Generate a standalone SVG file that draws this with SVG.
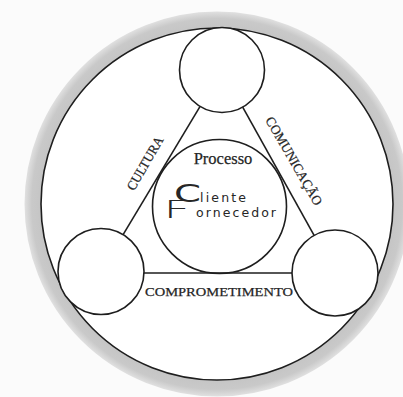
<svg xmlns="http://www.w3.org/2000/svg" width="403" height="397" viewBox="0 0 403 397">
  <style>
    .ln { stroke: #1e1e1e; stroke-width: 1.6; fill: none; }
    .node { stroke: #1e1e1e; stroke-width: 1.6; fill: #ffffff; }
    .serif { font-family: "Liberation Serif", "Times New Roman", serif; fill: #262626; stroke: #262626; stroke-width: 0.25; }
    .geo { font-family: "DejaVu Sans", "Liberation Sans", sans-serif; fill: #262626; }
  </style>
  <defs>
    <radialGradient id="ringGrad" gradientUnits="userSpaceOnUse" cx="217" cy="204" r="193">
      <stop offset="0.90" stop-color="#c4c4c4"/>
      <stop offset="0.96" stop-color="#c9c9c9"/>
      <stop offset="1" stop-color="#e2e2e2"/>
    </radialGradient>
  </defs>
  <rect x="0" y="0" width="403" height="397" fill="#fbfbfb"/>

  <g id="frame">
    <circle cx="217" cy="204" r="184" fill="none" stroke="url(#ringGrad)" stroke-width="17"/>
    <circle cx="217" cy="204" r="176" fill="#ffffff" stroke="#1e1e1e" stroke-width="1.6"/>
  </g>

  <g id="connectors">
    <line class="ln" x1="200.1" y1="106.4" x2="123.1" y2="234.6"/>
    <line class="ln" x1="242.7" y1="107.1" x2="314.1" y2="235.4"/>
    <line class="ln" x1="144" y1="273" x2="292" y2="273"/>
    <text class="serif" font-size="13.5" text-anchor="middle" textLength="60" lengthAdjust="spacingAndGlyphs" transform="translate(148.9 165.6) rotate(-60)">CULTURA</text>
    <text class="serif" font-size="13.5" text-anchor="middle" textLength="100" lengthAdjust="spacingAndGlyphs" transform="translate(290.1 163.3) rotate(60)">COMUNICAÇÃO</text>
    <text class="serif" font-size="13.5" x="219" y="295.7" text-anchor="middle" textLength="148" lengthAdjust="spacingAndGlyphs">COMPROMETIMENTO</text>
  </g>

  <g id="node-top">
    <circle class="node" cx="222" cy="70" r="42.5"/>
  </g>
  <g id="node-left">
    <circle class="node" cx="101" cy="271.5" r="43"/>
  </g>
  <g id="node-right">
    <circle class="node" cx="335" cy="273" r="43"/>
  </g>

  <g id="node-center">
    <circle class="ln" cx="219.5" cy="206.5" r="67"/>
    <text class="serif" font-size="16.5" x="223" y="164" text-anchor="middle">Processo</text>
    <text class="geo" font-size="24" x="174" y="201.7" textLength="27" lengthAdjust="spacingAndGlyphs">C</text>
    <text class="geo" font-size="12.5" x="200" y="201.7" textLength="46" lengthAdjust="spacing">liente</text>
    <text class="geo" font-size="25" font-weight="300" x="163.5" y="218" textLength="27" lengthAdjust="spacingAndGlyphs">F</text>
    <text class="geo" font-size="12.5" x="196" y="217.3" textLength="80" lengthAdjust="spacing">ornecedor</text>
  </g>
</svg>
